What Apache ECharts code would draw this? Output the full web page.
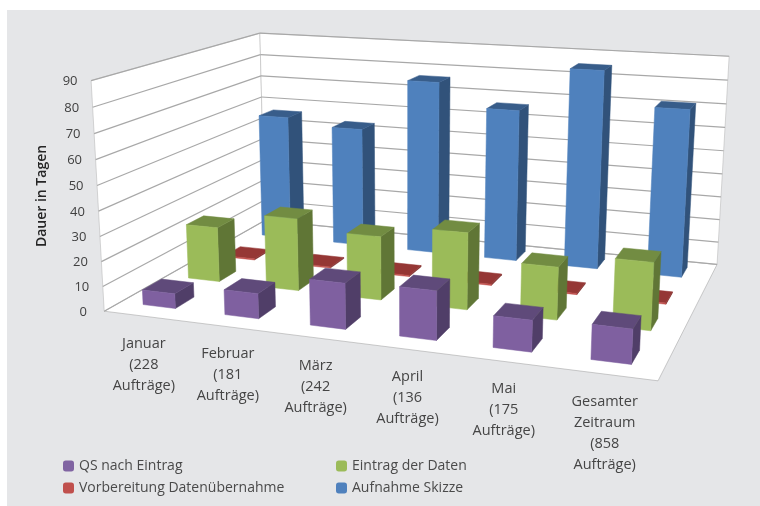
<!DOCTYPE html>
<html>
<head>
<meta charset="utf-8">
<script src="https://cdn.jsdelivr.net/npm/echarts@6/dist/echarts.min.js"></script>
<style>
  html, body { margin: 0; background: #fff; }
  #chart { width: 760px; height: 506px; filter: blur(0.5px); }
</style>
</head>
<body>
<div id="chart"></div>
<script>
const categories = [
  "Januar\n(228\nAufträge)",
  "Februar\n(181\nAufträge)",
  "März\n(242\nAufträge)",
  "April\n(136\nAufträge)",
  "Mai\n(175\nAufträge)",
  "Gesamter\nZeitraum\n(858\nAufträge)",
];
const yTicks = [0, 10, 20, 30, 40, 50, 60, 70, 80, 90];
const qsNachEintrag = [6, 10, 18, 19, 12, 13];
const eintragDerDaten = [23, 30, 26, 31, 21, 26.5];
const vorbereitung = [0.5, 0.5, 0.5, 0.5, 0.5, 0.5];
const aufnahmeSkizze = [56, 53, 76, 66, 85, 71];

const FONT = '"Open Sans"';
const BAR_W = 0.4; // Breite je Kategorie
const BAR_D = 0.42; // Tiefe je Reihe

// Kalibrierung der Perspektive: [Kategorie, Tage, Reihe] -> Bildpunkt
const calib = [
  [0, 0, 0, 104, 310],
  [0, 90, 0, 91, 81],
  [0, 80, 0, 93, 107],
  [0, 90, 4, 260, 33],
  [0, 80, 4, 260, 54],
  [0, 0, 4, 265, 222],
  [6, 0, 0, 658, 382],
  [6, 0, 4, 717, 263],
  [6, 90, 4, 729, 57],
  [6, 80, 4, 728, 80],
];

function solve(A, b) {
  const n = b.length;
  for (let i = 0; i < n; i++) {
    let m = i;
    for (let r = i + 1; r < n; r++) if (Math.abs(A[r][i]) > Math.abs(A[m][i])) m = r;
    [A[i], A[m]] = [A[m], A[i]];
    [b[i], b[m]] = [b[m], b[i]];
    for (let r = i + 1; r < n; r++) {
      const f = A[r][i] / A[i][i];
      for (let c = i; c < n; c++) A[r][c] -= f * A[i][c];
      b[r] -= f * b[i];
    }
  }
  const x = new Array(n).fill(0);
  for (let i = n - 1; i >= 0; i--) {
    let s = b[i];
    for (let c = i + 1; c < n; c++) s -= A[i][c] * x[c];
    x[i] = s / A[i][i];
  }
  return x;
}

function fitCamera() {
  const rows = [];
  const rhs = [];
  calib.forEach(([cx, cy, cz, u, v]) => {
    const X = cx / 6, Y = cy / 90, Z = cz / 4;
    rows.push([X, Y, Z, 1, 0, 0, 0, 0, -u * X, -u * Y, -u * Z]);
    rhs.push(u);
    rows.push([0, 0, 0, 0, X, Y, Z, 1, -v * X, -v * Y, -v * Z]);
    rhs.push(v);
  });
  const N = [];
  const t = [];
  for (let i = 0; i < 11; i++) {
    N.push([]);
    let s = 0;
    for (let j = 0; j < 11; j++) {
      let q = 0;
      rows.forEach((r) => (q += r[i] * r[j]));
      N[i].push(q);
    }
    rows.forEach((r, k) => (s += r[i] * rhs[k]));
    t.push(s);
  }
  return solve(N, t);
}

const cam = fitCamera();

function project(cx, cy, cz) {
  const X = cx / 6, Y = cy / 90, Z = cz / 4;
  const w = cam[8] * X + cam[9] * Y + cam[10] * Z + 1;
  return [
    (cam[0] * X + cam[1] * Y + cam[2] * Z + cam[3]) / w,
    (cam[4] * X + cam[5] * Y + cam[6] * Z + cam[7]) / w,
  ];
}

const poly = (api, pts, fill, stroke) => ({
  type: "polygon",
  shape: { points: pts.map((p) => api.coord(project(p[0], p[1], p[2]))) },
  style: { fill, stroke: stroke || fill, lineWidth: 0.5 },
});

const seg = (api, a, b, stroke, lineWidth) => {
  const p = api.coord(project(a[0], a[1], a[2]));
  const q = api.coord(project(b[0], b[1], b[2]));
  return {
    type: "line",
    shape: { x1: p[0], y1: p[1], x2: q[0], y2: q[1] },
    style: { stroke, lineWidth },
  };
};

function barSeries(name, values, row, colors) {
  return {
    name,
    type: "custom",
    coordinateSystem: "cartesian2d",
    silent: true,
    itemStyle: { color: colors.legend },
    data: values.map((v, i) => [i, v]),
    encode: { x: 0, y: 1 },
    renderItem: (params, api) => {
      const i = api.value(0);
      const v = api.value(1);
      const x0 = i + 0.48 - BAR_W / 2, x1 = i + 0.48 + BAR_W / 2;
      const z0 = row - BAR_D / 2, z1 = row + BAR_D / 2;
      return {
        type: "group",
        children: [
          poly(api, [[x1, 0, z0], [x1, 0, z1], [x1, v, z1], [x1, v, z0]], colors.side),
          poly(api, [[x0, v, z0], [x1, v, z0], [x1, v, z1], [x0, v, z1]], colors.top),
          poly(api, [[x0, 0, z0], [x1, 0, z0], [x1, v, z0], [x0, v, z0]], colors.front),
        ],
      };
    },
  };
}

const option = {
  animation: false,
  backgroundColor: "#ffffff",
  grid: { left: 0, right: 0, top: 0, bottom: 0 },
  xAxis: { type: "value", min: 0, max: 760, show: false },
  yAxis: { type: "value", min: 0, max: 506, inverse: true, show: false },
  graphic: [
    {
      type: "rect",
      z: -10,
      shape: { x: 7, y: 10, width: 753, height: 496 },
      style: { fill: "#e5e6e8" },
    },
    {
      type: "text",
      x: 42,
      y: 196,
      rotation: Math.PI / 2,
      style: {
        text: "Dauer in Tagen",
        font: "600 14px " + FONT,
        fill: "#262626",
        align: "center",
        verticalAlign: "middle",
      },
    },
  ],
  legend: [
    {
      left: 58,
      top: 454,
      orient: "vertical",
      itemWidth: 11,
      itemHeight: 11,
      itemGap: 8,
      selectedMode: false,
      data: ["QS nach Eintrag", "Vorbereitung Datenübernahme"],
      textStyle: { fontFamily: FONT, fontSize: 14, color: "#4a4a4a" },
    },
    {
      left: 331,
      top: 454,
      orient: "vertical",
      itemWidth: 11,
      itemHeight: 11,
      itemGap: 8,
      selectedMode: false,
      data: ["Eintrag der Daten", "Aufnahme Skizze"],
      textStyle: { fontFamily: FONT, fontSize: 14, color: "#4a4a4a" },
    },
  ],
  series: [
    {
      // Boden und Waende
      type: "custom",
      silent: true,
      data: [[0, 0]],
      encode: { x: 0, y: 1 },
      renderItem: (params, api) => ({
        type: "group",
        children: [
          poly(api, [[0, 0, 0], [6, 0, 0], [6, 0, 4], [0, 0, 4]], "#ffffff", "#9a9a9a"),
          poly(api, [[0, 0, 0], [0, 0, 4], [0, 90, 4], [0, 90, 0]], "#ffffff", "#b0b0b0"),
          poly(api, [[0, 0, 4], [6, 0, 4], [6, 90, 4], [0, 90, 4]], "#ffffff", "#b0b0b0"),
        ],
      }),
    },
    {
      // Gitterlinien und Achsenbeschriftung
      type: "custom",
      silent: true,
      data: yTicks.map((t) => [0, t]),
      encode: { x: 0, y: 1 },
      renderItem: (params, api) => {
        const t = api.value(1);
        const p = api.coord(project(0, t, 0));
        return {
          type: "group",
          children: [
            seg(api, [0, t, 0], [0, t, 4], "#a8a8a8", 1.2),
            seg(api, [0, t, 4], [6, t, 4], "#a8a8a8", 1.2),
            {
              type: "text",
              style: {
                text: String(t),
                x: p[0] - 21,
                y: p[1] + 1,
                align: "center",
                verticalAlign: "middle",
                font: "13px " + FONT,
                fill: "#404040",
              },
            },
          ],
        };
      },
    },
    barSeries("Aufnahme Skizze", aufnahmeSkizze, 3.55, {
      legend: "#4f81bd", front: "#4f81bd", top: "#385d8a", side: "#31527a",
    }),
    barSeries("Vorbereitung Datenübernahme", vorbereitung, 2.5, {
      legend: "#c0504d", front: "#c0504d", top: "#953735", side: "#7d2e2c",
    }),
    barSeries("Eintrag der Daten", eintragDerDaten, 1.58, {
      legend: "#9bbb59", front: "#9bbb59", top: "#728c42", side: "#607636",
    }),
    barSeries("QS nach Eintrag", qsNachEintrag, 0.55, {
      legend: "#8064a2", front: "#7f60a0", top: "#5f4a7a", side: "#503e68",
    }),
    {
      // Kategorien unter der Vorderkante
      type: "custom",
      silent: true,
      data: categories.map((c, i) => [i, 0]),
      encode: { x: 0, y: 1 },
      renderItem: (params, api) => {
        const i = api.value(0);
        const p = api.coord(project(i + 0.5, 0, 0));
        return {
          type: "text",
          style: {
            text: categories[i],
            x: p[0] - 1,
            y: p[1] + 17,
            align: "center",
            verticalAlign: "top",
            font: "14.5px " + FONT,
            lineHeight: 21,
            fill: "#454545",
          },
        };
      },
    },
  ],
};

const chart = echarts.init(document.getElementById("chart"));
chart.setOption(option);
</script>
</body>
</html>
